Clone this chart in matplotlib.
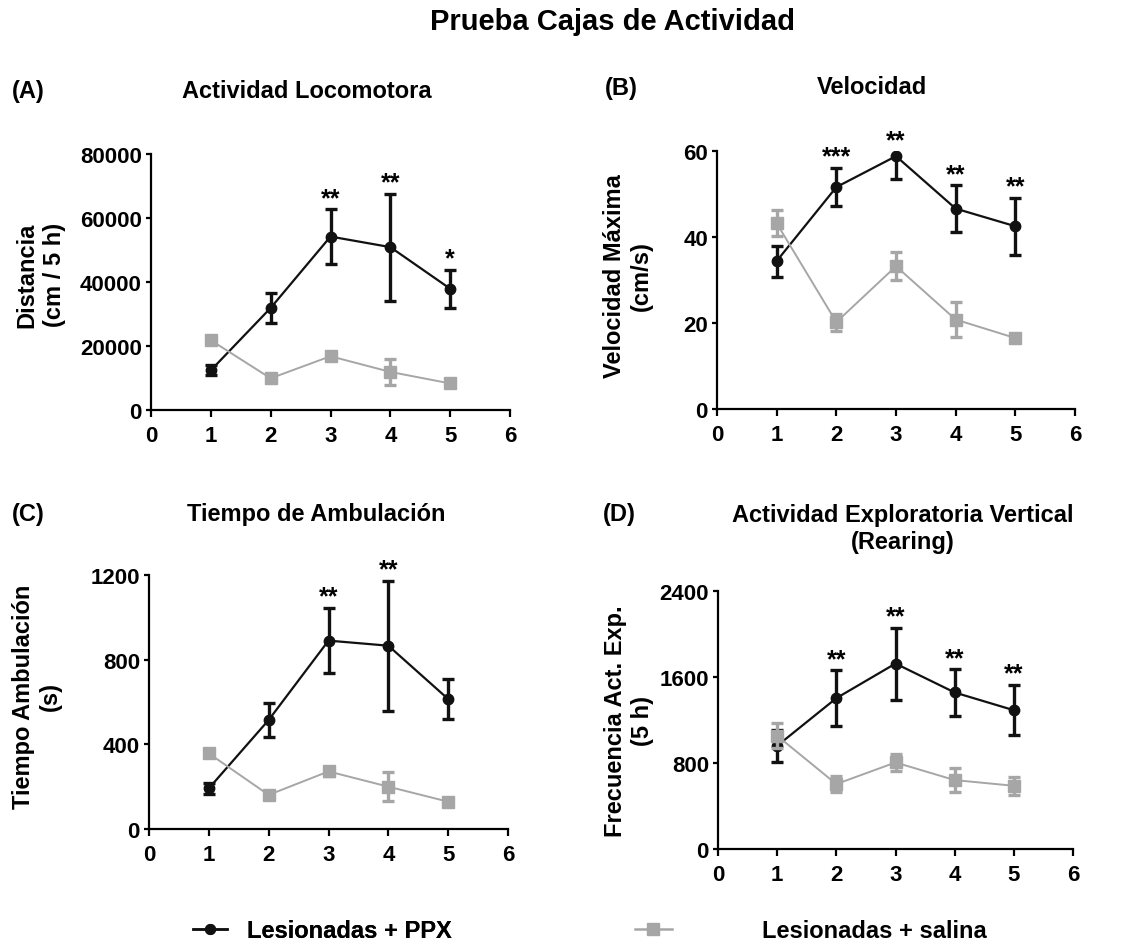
import matplotlib
matplotlib.use('Agg')
import matplotlib.pyplot as plt
from matplotlib.lines import Line2D

# Datos
dias = [1, 2, 3, 4, 5]

dist_ppx = [12400, 31900, 54200, 50900, 37900]
dist_ppx_err = [1600, 4700, 8600, 16700, 5900]
dist_sal = [21800, 9900, 16800, 11900, 8300]
dist_sal_err = [800, 700, 800, 4000, 700]
dist_stars = ['', '', '**', '**', '*']

vel_ppx = [34.4, 51.6, 58.8, 46.6, 42.5]
vel_ppx_err = [3.6, 4.5, 5.2, 5.4, 6.6]
vel_sal = [43.2, 20.2, 33.2, 20.8, 16.5]
vel_sal_err = [3.0, 2.0, 3.2, 4.0, 1.0]
vel_stars = ['', '***', '**', '**', '**']

amb_ppx = [192, 515, 890, 866, 614]
amb_ppx_err = [25, 78, 155, 307, 95]
amb_sal = [357, 161, 272, 200, 129]
amb_sal_err = [12, 10, 20, 68, 8]
amb_stars = ['', '', '**', '**', '']

rear_ppx = [960, 1403, 1725, 1456, 1291]
rear_ppx_err = [150, 258, 335, 215, 235]
rear_sal = [1053, 604, 805, 641, 588]
rear_sal_err = [118, 72, 77, 113, 85]
rear_stars = ['', '**', '**', '**', '**']

W, H = 1131, 945
FONT = 'Liberation Sans'
NEGRO = '#111111'
GRIS = '#a6a6a6'

plt.rcParams['font.family'] = FONT
plt.rcParams['font.weight'] = 'bold'


def px(x, y):
    return x / W, 1 - y / H


def panel(rect, ppx, ppx_err, sal, sal_err, stars, ymax, yticks, ylabel, lab_xy):
    l, t, r, b = rect
    ax = fig.add_axes([l / W, 1 - b / H, (r - l) / W, (b - t) / H])
    ax.errorbar(dias, ppx, yerr=ppx_err, color=NEGRO, lw=1.6, marker='o',
                ms=7.5, elinewidth=2.4, capsize=4.5, capthick=2.4, zorder=3)
    ax.errorbar(dias, sal, yerr=sal_err, color=GRIS, lw=1.4, marker='s',
                ms=8, elinewidth=2.4, capsize=4, capthick=2.4, zorder=4)
    for xi, yi, ei, s in zip(dias, ppx, ppx_err, stars):
        if s:
            top = min(yi + ei, ymax)
            ax.annotate(s, (xi, top), xytext=(0, 3), textcoords='offset points',
                        ha='center', va='baseline', fontsize=18,
                        fontweight='bold', annotation_clip=False)
    ax.set_xlim(0, 6)
    ax.set_ylim(0, ymax)
    ax.set_xticks(range(7))
    ax.set_yticks(yticks)
    for s in ['top', 'right']:
        ax.spines[s].set_visible(False)
    for s in ['left', 'bottom']:
        ax.spines[s].set_linewidth(1.6)
    ax.tick_params(width=1.6, labelsize=16)
    ax.tick_params(axis='x', length=5, pad=6)
    ax.tick_params(axis='y', length=3.5, pad=3)
    for lab in ax.get_xticklabels() + ax.get_yticklabels():
        lab.set_fontweight('bold')
    ax.set_ylabel(ylabel, fontsize=17, fontweight='bold', linespacing=1.25)
    ax.yaxis.set_label_coords(*px(*lab_xy), transform=fig.transFigure)
    ax.yaxis.label.set_va('center')
    return ax


fig = plt.figure(figsize=(W / 100, H / 100), dpi=100)

panel((151, 155, 510, 411), dist_ppx, dist_ppx_err, dist_sal, dist_sal_err,
      dist_stars, 80000, [0, 20000, 40000, 60000, 80000],
      'Distancia\n(cm / 5 h)', (41, 275))
panel((717, 152, 1075, 410), vel_ppx, vel_ppx_err, vel_sal, vel_sal_err,
      vel_stars, 60, [0, 20, 40, 60], 'Velocidad Máxima\n(cm/s)', (628, 276))
panel((149, 576, 508, 830), amb_ppx, amb_ppx_err, amb_sal, amb_sal_err,
      amb_stars, 1200, [0, 400, 800, 1200], 'Tiempo Ambulación\n(s)', (37, 697))
panel((718, 592, 1073, 850), rear_ppx, rear_ppx_err, rear_sal, rear_sal_err,
      rear_stars, 2400, [0, 800, 1600, 2400], 'Frecuencia Act. Exp.\n(5 h)',
      (629, 721))

# Titulos
fig.text(*px(612, 22), 'Prueba Cajas de Actividad', ha='center', va='center',
         fontsize=21, fontweight='bold')
fig.text(*px(307, 91), 'Actividad Locomotora', ha='center', va='center',
         fontsize=17, fontweight='bold')
fig.text(*px(872, 88), 'Velocidad', ha='center', va='center',
         fontsize=17, fontweight='bold')
fig.text(*px(316, 515), 'Tiempo de Ambulación', ha='center', va='center',
         fontsize=17, fontweight='bold')
fig.text(*px(903, 529), 'Actividad Exploratoria Vertical\n(Rearing)',
         ha='center', va='center', fontsize=17, fontweight='bold',
         linespacing=1.25)

for lab, x, y in [('(A)', 12, 92), ('(B)', 605, 88), ('(C)', 12, 514), ('(D)', 603, 515)]:
    fig.text(*px(x, y), lab, ha='left', va='center', fontsize=17,
             fontweight='bold')

# Leyenda
h_ppx = Line2D([], [], color=NEGRO, lw=1.8, marker='o', ms=7)
h_sal = Line2D([], [], color=GRIS, lw=1.8, marker='s', ms=8)
leg1 = fig.legend([h_ppx], ['Lesionadas + PPX'], loc='center left',
                  bbox_to_anchor=px(193, 932), frameon=False, borderpad=0,
                  borderaxespad=0, handlelength=1.45, handletextpad=0.85,
                  prop={'family': FONT, 'weight': 'bold', 'size': 17})
fig.add_artist(leg1)
fig.legend([h_sal], ['Lesionadas + salina'], loc='center left',
           bbox_to_anchor=px(635, 932), frameon=False, borderpad=0,
           borderaxespad=0, handlelength=1.55, handletextpad=3.85,
           prop={'family': FONT, 'weight': 'bold', 'size': 17})

fig.savefig('out.png', dpi=100)
